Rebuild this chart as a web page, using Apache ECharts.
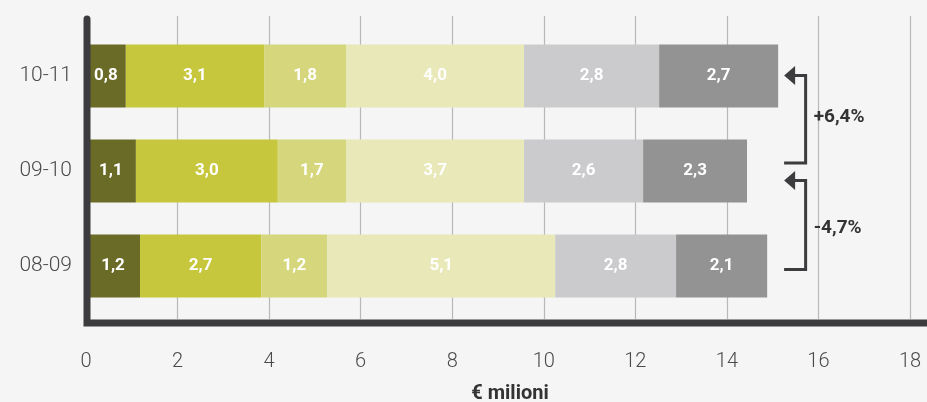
<!DOCTYPE html>
<html><head><meta charset="utf-8">
<script src="https://cdn.jsdelivr.net/npm/echarts@6/dist/echarts.min.js"></script>
<style>html,body{margin:0;padding:0;background:#f5f5f5}#c{width:927px;height:402px}</style>
</head><body><div id="c"></div><script>
const categories = ['08-09', '09-10', '10-11'];
const seg1 = [1.18, 1.09, 0.87];
const seg2 = [2.65, 3.10, 3.02];
const seg3 = [1.44, 1.49, 1.79];
const seg4 = [4.98, 3.89, 3.89];
const seg5 = [2.64, 2.60, 2.95];
const seg6 = [1.99, 2.27, 2.60];
const lab1 = ['1,2', '1,1', '0,8'];
const lab2 = ['2,7', '3,0', '3,1'];
const lab3 = ['1,2', '1,7', '1,8'];
const lab4 = ['5,1', '3,7', '4,0'];
const lab5 = ['2,8', '2,6', '2,8'];
const lab6 = ['2,1', '2,3', '2,7'];
const xMin = 0, xMax = 18, xInterval = 2;
const axisName = '€ milioni';
const changeLabels = ['-4,7%', '+6,4%'];

const colors = ['#6b6b28', '#c6c73d', '#d6d77d', '#e8e8b8', '#cbcbcd', '#939394'];
const segs = [seg1, seg2, seg3, seg4, seg5, seg6];
const labs = [lab1, lab2, lab3, lab4, lab5, lab6];
const FONT = 'Roboto, "Liberation Sans", sans-serif';

const chart = echarts.init(document.getElementById('c'), null, {renderer: 'canvas'});
chart.setOption({
  backgroundColor: '#f5f5f5',
  animation: false,
  grid: [
    {left: 86, right: 17, top: 28.5, bottom: 88.5, outerBoundsMode: 'none', containLabel: false},
    {left: 86, right: 17, top: 16, bottom: 83, outerBoundsMode: 'none', containLabel: false}
  ],
  xAxis: [
    {gridIndex: 0, type: 'value', min: xMin, max: xMax, interval: xInterval,
     axisLine: {show: false}, axisTick: {show: false}, axisLabel: {show: false}, splitLine: {show: false}},
    {gridIndex: 1, type: 'value', min: xMin, max: xMax, interval: xInterval,
     axisLine: {show: false}, axisTick: {show: false},
     axisLabel: {margin: 33, fontSize: 20, fontWeight: 300, color: '#4a4a4a', fontFamily: FONT},
     splitLine: {show: true, lineStyle: {color: '#b8b8b8', width: 1.2}},
     name: axisName, nameLocation: 'middle', nameGap: 65,
     nameTextStyle: {fontSize: 20, fontWeight: 'bold', color: '#333', fontFamily: FONT, padding: [0, 0, 0, 24]}}
  ],
  yAxis: [
    {gridIndex: 0, type: 'category', data: categories,
     axisLine: {show: false}, axisTick: {show: false},
     axisLabel: {margin: 14, fontSize: 21, fontWeight: 300, color: '#4a4a4a', fontFamily: FONT}},
    {gridIndex: 1, type: 'value', min: 0, max: 1, show: false}
  ],
  series: segs.map((d, i) => ({
    type: 'bar', stack: 'total', xAxisIndex: 0, yAxisIndex: 0,
    barWidth: 63, data: d,
    itemStyle: {color: colors[i]},
    label: {show: true, position: 'inside', color: '#fff', fontSize: 17, fontWeight: 'bold', fontFamily: FONT,
      formatter: p => labs[i][p.dataIndex]}
  }))
});

function px(x, c) { return chart.convertToPixel({xAxisIndex: 0, yAxisIndex: 0}, [x, c]); }
const x0 = chart.convertToPixel({xAxisIndex: 1}, 0);
const xR = chart.getWidth() + 5;
const yTop = 19, yAxisLine = 323;
const tipX = px(15.25, categories[0])[0];
const lineX = px(15.72, categories[0])[0];
const cy = categories.map(c => px(0, c)[1]);
const dark = '#3c3c3e';
function bracket(yArrow, yEnd) {
  return [
    {type: 'polygon', z: 100, shape: {points: [[tipX, yArrow], [tipX + 11, yArrow - 9.5], [tipX + 11, yArrow + 9.5]]}, style: {fill: dark}},
    {type: 'polyline', z: 100, shape: {points: [[tipX + 9, yArrow], [lineX, yArrow], [lineX, yEnd], [tipX, yEnd]]},
     style: {stroke: dark, lineWidth: 3, fill: null, lineJoin: 'miter'}}
  ];
}
const a1 = cy[2] - 0.5, e1 = cy[1] - 8;
const a2 = cy[1] + 9.5, e2 = cy[0] + 3.5;
chart.setOption({
  graphic: [
    {type: 'polyline', z: 100, shape: {points: [[x0 + 1, yTop], [x0 + 1, yAxisLine], [xR, yAxisLine]]},
     style: {stroke: dark, lineWidth: 7, lineCap: 'round', lineJoin: 'miter', fill: null}},
    ...bracket(a1, e1),
    ...bracket(a2, e2),
    {type: 'text', z: 100, x: lineX + 8, y: (a1 + e1) / 2 - 2,
     style: {text: changeLabels[1], fill: '#333', font: 'bold 19px ' + FONT, verticalAlign: 'middle'}},
    {type: 'text', z: 100, x: lineX + 8, y: (a2 + e2) / 2 + 3,
     style: {text: changeLabels[0], fill: '#333', font: 'bold 19px ' + FONT, verticalAlign: 'middle'}}
  ]
});
</script></body></html>
